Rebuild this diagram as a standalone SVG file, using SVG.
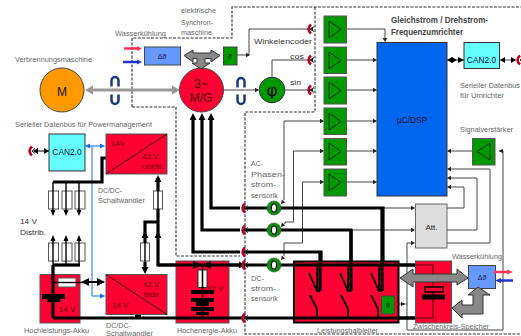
<svg xmlns="http://www.w3.org/2000/svg" width="521" height="336" viewBox="0 0 521 336">
<style>
text{font-family:"Liberation Sans",Arial,sans-serif}
.lb{font-size:7.4px;fill:#666}
.dk{font-size:7.6px;fill:#333}
.v{font-size:8px;fill:#600}
.t{fill:none;stroke:#444;stroke-width:1}
.b{fill:none;stroke:#000;stroke-width:3.2}
.m{fill:none;stroke:#000;stroke-width:1.4}
.d{fill:none;stroke:#333;stroke-width:1.1;stroke-dasharray:3 1.4}
.g{fill:none;stroke:#999;stroke-width:3}
.red{fill:#ff0033;stroke:#555;stroke-width:1}
.amp{fill:#009900;stroke:#555;stroke-width:1}
.tri{fill:none;stroke:#111;stroke-width:.8}
.fuse{fill:#fff;stroke:#555;stroke-width:1}
.sw{fill:none;stroke:#000;stroke-width:1.8}
.ba{fill:#888;stroke:#333;stroke-width:1}
</style>
<defs>
<path id="aT" d="M0 0l-4-2.300v4.600z" fill="#222"/>
<g id="conn"><path d="M2 -4.500Q-3 0 2 4.500" fill="none" stroke="#bb0022" stroke-width="2.600"/><path d="M5-2.500L2 0l3 2.500" fill="none" stroke="#222" stroke-width="1"/></g>
<g id="rot"><path d="M-3.500 4.500V-1.500a3.500 3.500 0 0 1 7 0V4.500" fill="none" stroke="#1a3a80" stroke-width="2.500"/></g>
<g id="rotd"><path d="M-3.500 -4.500V1.500a3.500 3.500 0 0 0 7 0V-4.500" fill="none" stroke="#1a3a80" stroke-width="2.500"/></g>
<g id="ring"><circle r="7" fill="#009900" stroke="#444" stroke-width=".6"/><ellipse rx="2.600" ry="4.200" fill="#fff" stroke="#000" stroke-width="1.200"/></g>
</defs>

<g id="frames">
<path class="d" d="M132 107V38H232V7H521"/>
<path class="d" d="M132 107H176V256H240"/>
<path class="d" d="M315 7V112H245V334H521"/>
</g>

<g id="fuses">
<rect class="fuse" x="48.500" y="191" width="10" height="18"/><rect class="fuse" x="62" y="191" width="10" height="18"/><rect class="fuse" x="75" y="191" width="10" height="18"/>
<rect class="fuse" x="48.500" y="243" width="10" height="18"/><rect class="fuse" x="62" y="243" width="10" height="18"/><rect class="fuse" x="75" y="243" width="10" height="18"/>
<rect class="fuse" x="153.500" y="191" width="9" height="18"/><rect class="fuse" x="140.500" y="243" width="9" height="18"/>
</g>

<g id="connectors">
<path class="g" d="M90 90H175"/>
<path d="M85 90l8-4.500v9zM180 90l-8-4.500v9z" fill="#999"/>
<path class="t" d="M224 90H258"/><use href="#aT" x="259" y="90"/>
<path class="t" d="M237 55H249V29H310M347 29H385V38"/>
<use href="#aT" transform="translate(250 55)"/>
<use href="#aT" transform="translate(385 42) rotate(90)"/>
<use href="#aT" transform="translate(309 29) rotate(180)"/>
<path class="t" d="M272 77V60H309M347 60H373M285 90H309M347 90H373"/>
<use href="#aT" transform="translate(309 60) rotate(180)"/>
<use href="#aT" transform="translate(309 90) rotate(180)"/>
<use href="#aT" x="377" y="60"/><use href="#aT" x="377" y="90"/>
<path class="t" d="M347 121H373M347 151H373M347 182H373"/>
<use href="#aT" x="377" y="121"/><use href="#aT" x="377" y="151"/><use href="#aT" x="377" y="182"/>
<path class="t" d="M284 200V121H320"/><use href="#aT" x="324" y="121"/>
<use href="#aT" transform="translate(281 204) rotate(130)"/>
<path class="t" d="M293.500 151H320M293.500 151V222H285V224"/><use href="#aT" x="324" y="151"/>
<use href="#aT" transform="translate(281 227) rotate(130)"/>
<path class="t" d="M302.500 182H320M302.500 182V243H284V256"/><use href="#aT" x="324" y="182"/>
<use href="#aT" transform="translate(281 260) rotate(130)"/>
<path class="t" d="M447 60H464M499 60H516"/>
<path d="M447 60l5-3v6zM457 60l-5-3v6zM464 60l-6-3v6zM500 60l5-3v6zM516 60l-5-3v6z" fill="#000"/>
<path class="t" d="M472 151H451M503 151H499M503 151V330H407V243H411"/>
<use href="#aT" transform="translate(447 151) rotate(180)"/>
<use href="#aT" x="495" y="151" transform="rotate(180 497 151)"/>
<use href="#aT" x="415" y="243"/>
<path class="t" d="M451 169H490V243H447"/><use href="#aT" transform="translate(447 169) rotate(180)"/>
<path class="t" d="M451 178H477V230H447"/><use href="#aT" transform="translate(447 178) rotate(180)"/>
<path class="t" d="M451 187H464V208H447"/><use href="#aT" transform="translate(447 187) rotate(180)"/>
<path class="t" d="M383 208H411M351 230H411"/>
<use href="#aT" x="415" y="208"/><use href="#aT" x="415" y="230"/>
<path class="t" d="M394 304H407"/>
<use href="#aT" x="405" y="304"/>

<path style="fill:none;stroke:#1166ff;stroke-width:1" d="M92 146V296H101M89 146H101"/>
<path d="M85 146l5-2.500v5zM105 146l-5-2.500v5zM105 296l-5-2.500v5z" fill="#1166ff"/>
<path class="t" style="stroke:#000" d="M36 151H49"/>
<path d="M33 151l5-3v6zM49 151l-5-3v6z" fill="#000"/>

<path class="b" d="M53 182H102V158H106"/>
<path class="m" d="M53 182V212M66 182V212M79 182V212"/>
<path class="m" d="M53 238V265M66 238V265M79 238V265"/>
<path class="b" d="M53 265H80"/>
<path class="m" d="M158 191V209M145 243V262"/>
<path class="b" d="M158 178V191M158 209V265H245M145 235V222H158M145 235V243M145 262V270"/>
<path class="b" d="M193 118V252H240M202 118V230H240M211 118V208H240"/>
<path class="b" d="M243 208H383V291M243 230H351V291M243 252H321V291"/>
<path d="M193 113l-3.500 7h7zM202 113l-3.500 7h7zM211 113l-3.500 7h7z"/>
<path d="M158 175l-3.500 7h7z"/>
<path d="M158 231l-3.500 7h7zM145 231l-3.500 7h7zM145 274l-3.500-7h7z"/>
<path d="M53 216l-2.500-6h5zM66 216l-2.500-6h5zM79 216l-2.500-6h5zM53 235l-2.500 6h5zM66 235l-2.500 6h5zM79 235l-2.500 6h5z"/>
<path d="M245 265l-6-3.500v7z"/>
</g>

<g id="motor-m"><circle cx="62" cy="90" r="22" fill="#ff9900" stroke="#444"/><text x="62" y="96" text-anchor="middle" font-size="12" fill="#111">M</text></g>
<use href="#rot" x="115" y="82"/><use href="#rotd" x="115" y="99"/>
<use href="#rot" x="241" y="83"/><use href="#rotd" x="241" y="99"/>
<g id="motor-mg"><circle cx="201.500" cy="90" r="22" fill="#ff0033" stroke="#444"/><text x="201" y="88" text-anchor="middle" font-size="12" fill="#400">3~</text><text x="201" y="102" text-anchor="middle" font-size="12" fill="#400">M/G</text></g>
<g id="cool-top">
<rect x="144.500" y="47" width="36" height="18" fill="#6699ff" stroke="#444"/>
<text x="162" y="59" text-anchor="middle" font-size="7" font-family="DejaVu Sans" fill="#113">Δϑ</text>
<path d="M124 48.500H139" stroke="#ff3355" stroke-width="2.500"/><path d="M142 48.500l-5-2.500v5z" fill="#ff3355"/>
<path d="M123 62H138" stroke="#2233cc" stroke-width="2.500"/><path d="M142 62l-5-2.500v5z" fill="#2233cc"/>
<path class="ba" d="M184 55.500L193 50V53H211V50L220 55.500L211 62V58.500H205V63H210L201 69L192 63H197V58.500H193V62z"/>
</g>
<g id="enc-theta"><rect x="223.500" y="47" width="13.500" height="18" fill="#009900" stroke="#444"/><text x="230" y="59" text-anchor="middle" font-size="7" font-family="DejaVu Sans" fill="#000">ϑ</text></g>
<g id="enc-phi"><circle cx="272" cy="90" r="12.800" fill="#009900" stroke="#333"/><text x="272" y="96" text-anchor="middle" font-size="17" font-family="Liberation Serif" fill="#000">φ</text></g>

<g id="amps">
<rect class="amp" x="324" y="16" width="22.500" height="27"/><path class="tri" d="M329 21V38L341 29.500z"/>
<rect class="amp" x="324" y="47" width="22.500" height="26.500"/><path class="tri" d="M329 52V69L341 60.500z"/>
<rect class="amp" x="324" y="77" width="22.500" height="27"/><path class="tri" d="M329 82V99L341 90.500z"/>
<rect class="amp" x="324" y="108" width="22.500" height="26.500"/><path class="tri" d="M329 113V130L341 121.500z"/>
<rect class="amp" x="324" y="138.500" width="22.500" height="26.500"/><path class="tri" d="M329 143V160L341 151.500z"/>
<rect class="amp" x="324" y="169" width="22.500" height="27"/><path class="tri" d="M329 174V191L341 182.500z"/>
</g>
<g id="uc"><rect x="377" y="42.500" width="70" height="153.500" fill="#0066ee" stroke="#333"/><text x="412" y="123" text-anchor="middle" font-size="8.400" fill="#113">µC/DSP</text></g>
<g id="can-right"><rect x="464" y="42.500" width="35.500" height="26" fill="#66ffff" stroke="#333"/><text x="481.500" y="63" text-anchor="middle" font-size="8.400" fill="#113">CAN2.0</text></g>
<g id="sigamp"><rect class="amp" x="472.500" y="138.500" width="22.500" height="26.500"/><path class="tri" d="M490 143V160L477 151.500z"/></g>
<g id="att"><rect x="415.500" y="204" width="31.500" height="44" fill="#dddddd" stroke="#666"/><text x="431.500" y="230" text-anchor="middle" font-size="8" fill="#222">Att.</text></g>
<g id="can-left"><rect x="49" y="134" width="36" height="37" fill="#66ffff" stroke="#333"/><text x="67" y="155" text-anchor="middle" font-size="8.400" fill="#113">CAN2.0</text></g>
<g id="dcdc-top"><rect class="red" x="106" y="134" width="61" height="40"/><path d="M106 174L167 134" stroke="#000" stroke-width=".8"/><text x="111" y="146" class="v">14V</text><text x="142" y="159" class="v">42 V</text><text x="142" y="169" class="v">unidir.</text></g>
<g id="dcdc-bottom"><rect class="red" x="106" y="274.500" width="61" height="40"/><path d="M106 274.500L167 314.500" stroke="#000" stroke-width=".8"/><text x="143" y="287" class="v">42 V</text><text x="144" y="297" class="v">bidir</text><text x="112" y="308" class="v">14 V</text></g>

<g id="akku14"><rect class="red" x="40" y="274.500" width="40" height="48.500"/>
<path class="b" d="M53 265V318"/>
<rect x="58" y="278" width="18" height="9" fill="#fff" stroke="#555"/><path d="M53 282.500H85" stroke="#000" stroke-width="1.400"/>
<path d="M85 282H104" stroke="#000" stroke-width="2"/><path d="M81 282l8-4v8zM105 282l-8-4v8z"/>
<path d="M42 294H65V299H60V302H47V299H42z"/><text x="59" y="312" class="v">14 V</text></g>

<g id="akku42"><rect class="red" x="176" y="261" width="53" height="62"/>
<path class="b" d="M158 265H245M53 318H245"/>
<path d="M202 265l-9-4v8zM202 265l9-4v8z"/>
<rect x="198" y="270" width="9" height="17.500" fill="#fff" stroke="#333"/>
<path d="M202.500 265V318" stroke="#000" stroke-width="1.600"/>
<path d="M191 290h23v4h-23zM191 298h23v4h-23zM196 302h13v4h-13zM191 307h23v4h-23zM196 312h13v3h-13z"/>
<text x="207" y="291" class="v">42 V</text></g>
<rect x="135" y="315" width="6" height="3" fill="#000"/>

<g id="halbleiter"><rect x="294" y="261.500" width="104.500" height="61" fill="#ff0033" stroke="#000" stroke-width="2"/>
<path class="b" d="M245 265H415M245 318H415"/>
<path class="b" d="M320 252V291M351 230V291M382 208V291"/>
<path class="sw" d="M309 273L317 291H320M340 273L348 291H351M371 273L379 291H382M317 265V291M348 265V291M379 265V291"/>
<path class="sw" d="M310 295L317 309V318M341 295L348 309V318M371 295L378 309V318"/>
<rect x="381.500" y="296" width="13" height="18" fill="#009900" stroke="#444"/><text x="388" y="308" text-anchor="middle" font-size="7" font-family="DejaVu Sans">ϑ</text></g>

<g id="zk"><rect class="red" x="415.500" y="261" width="36" height="62"/>
<path class="b" d="M399 265H415M399 318H415"/>
<path style="fill:none;stroke:#500;stroke-width:1.200" d="M415 265H433V318H415"/>
<rect x="425" y="287" width="18" height="5" fill="#ff0033" stroke="#000" stroke-width="1.500"/><rect x="422" y="294.500" width="23" height="5" fill="#000"/></g>

<g id="cool-bottom"><rect x="468.500" y="265.500" width="27" height="23" fill="#6699ff" stroke="#444"/><text x="482" y="280" text-anchor="middle" font-size="7" font-family="DejaVu Sans" fill="#113">Δϑ</text>
<path d="M494 272H508" stroke="#ff3355" stroke-width="2.500"/><path d="M513 272l-6-2.500v5z" fill="#ff3355"/>
<path d="M499 280.500H513" stroke="#2233cc" stroke-width="2.500" fill="none"/><path d="M495 280.500l6-2.500v5z" fill="#2233cc"/>
<path class="ba" d="M400 278L413 269V274H457V269L468 278L457 285V282H413V287z"/>
<path class="ba" d="M452 308L462 300V305H473V295H468L478 287L490 295H483V314H462V318z"/>
</g>

<g id="labels">
<text class="lb" x="15" y="62" textLength="77" lengthAdjust="spacingAndGlyphs">Verbrennungsmaschine</text>
<text class="lb" x="115" y="36" textLength="51" lengthAdjust="spacingAndGlyphs">Wasserkühlung</text>
<text class="lb" x="181" y="13" textLength="35" lengthAdjust="spacingAndGlyphs">elektrische</text>
<text class="lb" x="181" y="25" textLength="32" lengthAdjust="spacingAndGlyphs">Synchron-</text>
<text class="lb" x="181" y="35" textLength="31" lengthAdjust="spacingAndGlyphs">maschine</text>
<text class="lb" x="15" y="127" textLength="137" lengthAdjust="spacingAndGlyphs">Serieller Datenbus für Powermanagement</text>
<text class="dk" x="254" y="44" textLength="58" lengthAdjust="spacingAndGlyphs">Winkelencoder</text>
<text class="dk" x="290" y="59" textLength="14" lengthAdjust="spacingAndGlyphs">cos</text>
<text class="dk" x="290" y="85" textLength="11" lengthAdjust="spacingAndGlyphs">sin</text>
<text x="391" y="23" font-size="8.400" font-weight="bold" fill="#444" textLength="97" lengthAdjust="spacingAndGlyphs">Gleichstrom / Drehstrom-</text>
<text x="391" y="35" font-size="8.400" font-weight="bold" fill="#444" textLength="72" lengthAdjust="spacingAndGlyphs">Frequenzumrichter</text>
<text class="lb" x="460" y="88" textLength="60" lengthAdjust="spacingAndGlyphs">Serieller Datenbus</text>
<text class="lb" x="460" y="98" textLength="44" lengthAdjust="spacingAndGlyphs">für Umrichter</text>
<text class="lb" x="460" y="132" textLength="53" lengthAdjust="spacingAndGlyphs">Signalverstärker</text>
<text class="lb" x="251" y="166" textLength="12" lengthAdjust="spacingAndGlyphs">AC-</text>
<text class="lb" x="251" y="177" textLength="34" lengthAdjust="spacingAndGlyphs">Phasen-</text>
<text class="lb" x="251" y="187" textLength="25" lengthAdjust="spacingAndGlyphs">strom-</text>
<text class="lb" x="251" y="198" textLength="27" lengthAdjust="spacingAndGlyphs">sensorik</text>
<text class="lb" x="98" y="193" textLength="24" lengthAdjust="spacingAndGlyphs">DC/DC-</text>
<text class="lb" x="98" y="203" textLength="47" lengthAdjust="spacingAndGlyphs">Schaltwandler</text>
<text class="dk" x="20" y="224" textLength="17" lengthAdjust="spacingAndGlyphs">14 V</text>
<text class="dk" x="20" y="235" textLength="26" lengthAdjust="spacingAndGlyphs">Distrib.</text>
<text class="lb" x="251" y="281" textLength="13" lengthAdjust="spacingAndGlyphs">DC-</text>
<text class="lb" x="251" y="291" textLength="25" lengthAdjust="spacingAndGlyphs">strom-</text>
<text class="lb" x="251" y="301" textLength="27" lengthAdjust="spacingAndGlyphs">sensorik</text>
<text class="lb" x="24" y="333" textLength="65" lengthAdjust="spacingAndGlyphs">Hochleistungs-Akku</text>
<text class="lb" x="106" y="328" textLength="25" lengthAdjust="spacingAndGlyphs">DC/DC-</text>
<text class="lb" x="106" y="335.500" textLength="47" lengthAdjust="spacingAndGlyphs">Schaltwandler</text>
<text class="lb" x="177" y="333" textLength="60" lengthAdjust="spacingAndGlyphs">Hochenergie-Akku</text>
<text class="lb" x="317" y="333" textLength="61" lengthAdjust="spacingAndGlyphs">Leistungshalbleiter</text>
<text class="lb" x="413" y="329" textLength="76" lengthAdjust="spacingAndGlyphs">Zwischenkreis-Speicher</text>
<text class="lb" x="452" y="259" textLength="50" lengthAdjust="spacingAndGlyphs">Wasserkühlung</text>
</g>

<g id="ports">
<use href="#conn" x="309" y="29"/><use href="#conn" x="309" y="60"/><use href="#conn" x="309" y="90"/>
<use href="#conn" x="518" y="60"/>
<use href="#conn" transform="translate(30 151)"/>
<use href="#conn" x="243" y="208"/><use href="#conn" x="243" y="230"/><use href="#conn" x="243" y="252"/><use href="#conn" x="243" y="265"/><use href="#conn" x="243" y="318"/>
<use href="#ring" x="274" y="208"/><use href="#ring" x="274" y="230"/><use href="#ring" x="274" y="265"/>
</g>
</svg>
